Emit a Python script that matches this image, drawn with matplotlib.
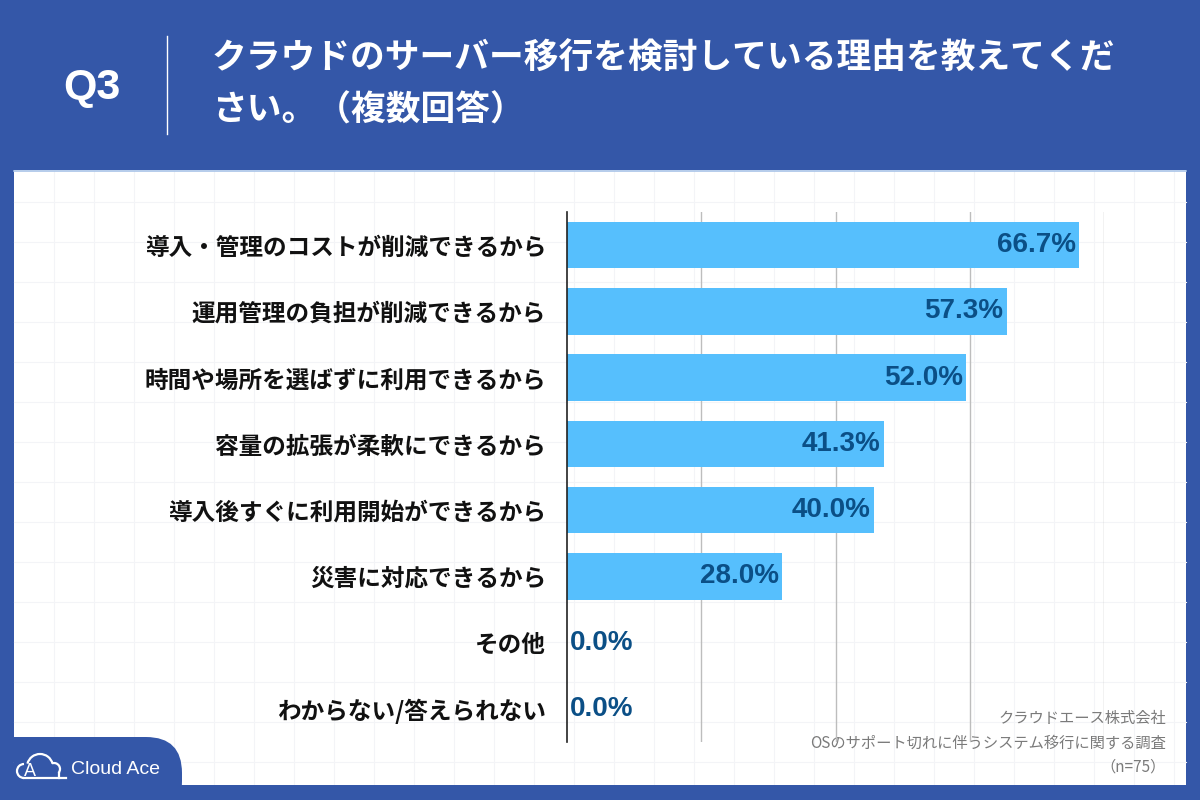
import matplotlib.pyplot as plt
from matplotlib.patches import Rectangle, FancyBboxPatch, Arc
import numpy as np

# データ
categories = [
    "導入・管理のコストが削減できるから",
    "運用管理の負担が削減できるから",
    "時間や場所を選ばずに利用できるから",
    "容量の拡張が柔軟にできるから",
    "導入後すぐに利用開始ができるから",
    "災害に対応できるから",
    "その他",
    "わからない/答えられない",
]
values = [66.7, 57.3, 52.0, 41.3, 40.0, 28.0, 0.0, 0.0]
title_q = "Q3"
title_lines = ["クラウドのサーバー移行を検討している理由を教えてくだ", "さい。（複数回答）"]
source_lines = ["クラウドエース株式会社", "OSのサポート切れに伴うシステム移行に関する調査", "（n=75）"]

BLUE = "#3457A8"
BAR = "#56BFFD"
VAL = "#0B4F86"
JP = ["Noto Sans CJK JP", "DejaVu Sans"]
NUM = ["Liberation Sans", "Noto Sans CJK JP"]

plt.rcParams["font.family"] = JP

fig = plt.figure(figsize=(12, 8), dpi=100)
fig.patch.set_facecolor(BLUE)

# 背景（ピクセル座標）
bg = fig.add_axes([0, 0, 1, 1])
bg.set_xlim(0, 1200)
bg.set_ylim(800, 0)
bg.axis("off")

bg.add_patch(Rectangle((14, 170), 1172, 615, facecolor="white", edgecolor="none", zorder=1))
bg.plot([14, 1186], [170.5, 170.5], color="#A9C4E8", lw=1.2, zorder=1.6)
# 薄いグリッド模様
for gx in np.arange(54, 1186, 40):
    bg.plot([gx, gx], [171, 785], color="#F3F4F7", lw=0.8, zorder=1.2)
for gy in np.arange(202, 785, 40):
    bg.plot([14, 1186], [gy, gy], color="#F3F4F7", lw=0.8, zorder=1.2)

# ロゴのタブ
bg.add_patch(FancyBboxPatch((14, 737), 168, 80, boxstyle="round,pad=0,rounding_size=36",
                            facecolor=BLUE, edgecolor="none", zorder=2))
bg.add_patch(Rectangle((14, 737), 60, 60, facecolor=BLUE, edgecolor="none", zorder=2))
bg.add_patch(Rectangle((0, 785), 1200, 15, facecolor=BLUE, edgecolor="none", zorder=2))
# 雲アイコン
bg.add_patch(Arc((24, 771), 14, 14, theta1=90, theta2=270, color="white", lw=1.6, zorder=3))
bg.add_patch(Arc((40, 767), 26, 26, theta1=195, theta2=345, color="white", lw=1.6, zorder=3))
bg.add_patch(Arc((54, 769), 12, 12, theta1=250, theta2=40, color="white", lw=1.6, zorder=3))
bg.plot([24, 66], [778, 778], color="white", lw=1.6, zorder=3)
bg.plot([59, 59], [773, 778], color="white", lw=1.6, zorder=3)
bg.text(30, 771, "A", color="white", fontsize=13, family=NUM, ha="center", va="center", zorder=3)
bg.text(71, 769, "Cloud Ace", color="white", fontsize=14, family=NUM, ha="left", va="center", zorder=3)

# ヘッダー
bg.text(92, 88, title_q, color="white", fontsize=31, fontweight="bold", family=NUM,
        ha="center", va="center")
bg.plot([167, 167], [36, 134], color="white", lw=1)
bg.text(212, 58, title_lines[0], color="white", fontsize=25, fontweight="bold",
        ha="left", va="center")
bg.text(212, 110, title_lines[1], color="white", fontsize=25, fontweight="bold",
        ha="left", va="center")

# 出典
for i, s in enumerate(source_lines):
    bg.text(1166, 719 + i * 24, s, color="#7A7A7A", fontsize=11, ha="right", va="center", zorder=3)

# グラフ本体
ax = fig.add_axes([567 / 1200, 58 / 800, 537 / 1200, 530 / 800])
ax.set_facecolor("none")
y = np.arange(len(categories))
ax.barh(y, values, height=0.7, color=BAR, zorder=2)
ax.set_xlim(0, 70)
ax.set_ylim(len(categories) - 0.5, -0.5)
ax.set_xticks([17.5, 35, 52.5, 70])
ax.grid(axis="x", color="#BDBDBD", lw=1, zorder=0)
ax.tick_params(axis="x", length=0, labelbottom=False)
ax.tick_params(axis="y", length=0, pad=15)
ax.set_yticks(y)
ax.set_yticklabels(categories, fontsize=17, fontweight="bold", color="#111111")
for s in ["top", "right", "bottom"]:
    ax.spines[s].set_visible(False)
ax.spines["left"].set_color("#222222")
ax.spines["left"].set_linewidth(1.2)
ax.spines["left"].set_zorder(3)

for yi, v in zip(y, values):
    if v > 5:
        ax.text(v - 0.4, yi, f"{v:.1f}%", color=VAL, fontsize=20, fontweight="bold",
                family=NUM, ha="right", va="center", zorder=3)
    else:
        ax.text(0.4, yi, f"{v:.1f}%", color=VAL, fontsize=20, fontweight="bold",
                family=NUM, ha="left", va="center", zorder=3)

fig.savefig("out.png", dpi=100, facecolor=fig.get_facecolor())
